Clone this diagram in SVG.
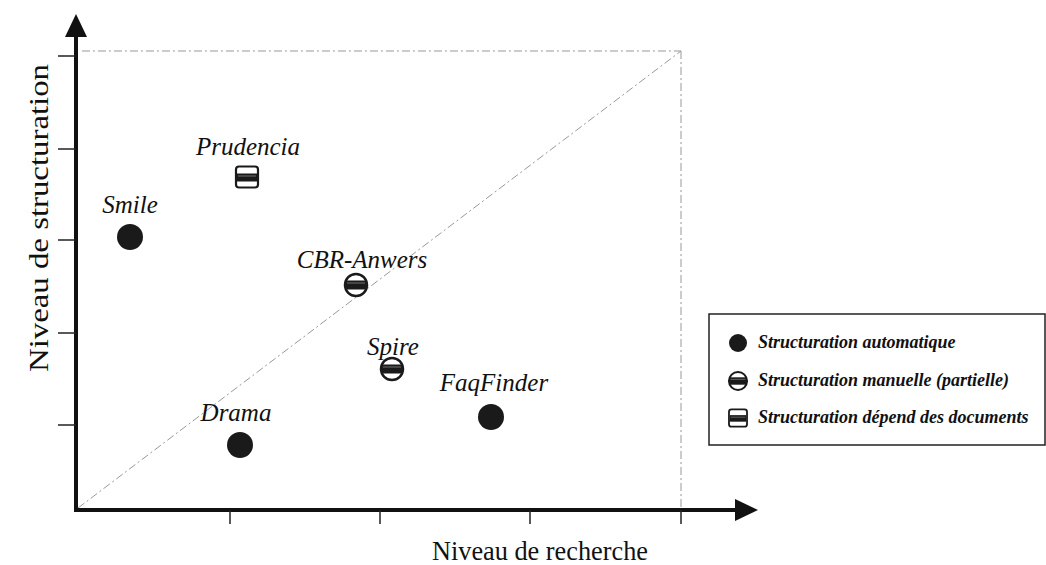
<svg xmlns="http://www.w3.org/2000/svg" width="1046" height="565" viewBox="0 0 1046 565">
  <style>
    .axis { stroke: #111; stroke-width: 4; fill: none; }
    .tick { stroke: #222; stroke-width: 1.5; }
    .guide { stroke: #999; stroke-width: 1; fill: none; stroke-dasharray: 8 3 2 3; }
    .label { font-family: "Liberation Serif", "Times New Roman", serif; font-style: italic; font-size: 25px; fill: #111; text-anchor: middle; }
    .axis-title { font-family: "Liberation Serif", "Times New Roman", serif; font-size: 27px; fill: #111; text-anchor: middle; }
    .legend-text { font-family: "Liberation Serif", "Times New Roman", serif; font-style: italic; font-weight: bold; font-size: 18px; fill: #111; }
    .auto { fill: #1a1a1a; }
    .manual-ring { fill: #fff; stroke: #1a1a1a; stroke-width: 2.5; }
    .band { fill: #1a1a1a; }
  </style>
  <defs>
    <!-- manual structuring symbol: ring with a dark middle band -->
    <g id="sym-manual">
      <circle r="11" class="manual-ring"/>
      <rect x="-10.5" y="-4.5" width="21" height="9" class="band"/>
      <line x1="-9" y1="-2" x2="9" y2="-2" stroke="#888" stroke-width="0.8"/>
    </g>
    <!-- document-dependent symbol: rounded box with a dark middle band -->
    <g id="sym-doc">
      <rect x="-11" y="-10.5" width="22" height="21" rx="3" fill="#fff" stroke="#1a1a1a" stroke-width="2.2"/>
      <rect x="-10" y="-3.5" width="20" height="8" class="band"/>
      <line x1="-9" y1="-1" x2="9" y2="-1" stroke="#888" stroke-width="0.8"/>
    </g>
  </defs>

  <!-- guide lines -->
  <g id="guides">
    <line x1="82" y1="51" x2="681" y2="51" class="guide"/>
    <line x1="681" y1="51" x2="681" y2="510" class="guide" stroke-dasharray="2 1"/>
    <line x1="78" y1="508" x2="681" y2="51" class="guide"/>
  </g>

  <!-- axes -->
  <g id="axes">
    <line x1="76" y1="510" x2="76" y2="36" class="axis"/>
    <path d="M65,37 L76,14 L87,37 Z" fill="#111"/>
    <line x1="74" y1="510" x2="736" y2="510" class="axis"/>
    <path d="M735,499 L758,510 L735,521 Z" fill="#111"/>
    <line x1="58" y1="56" x2="76" y2="56" class="tick"/>
    <line x1="58" y1="149" x2="76" y2="149" class="tick"/>
    <line x1="58" y1="240" x2="76" y2="240" class="tick"/>
    <line x1="58" y1="333" x2="76" y2="333" class="tick"/>
    <line x1="58" y1="425" x2="76" y2="425" class="tick"/>
    <line x1="230" y1="510" x2="230" y2="524" class="tick"/>
    <line x1="380" y1="510" x2="380" y2="524" class="tick"/>
    <line x1="530" y1="510" x2="530" y2="524" class="tick"/>
    <line x1="681" y1="510" x2="681" y2="524" class="tick"/>
    <text x="540" y="560" class="axis-title" textLength="216" lengthAdjust="spacingAndGlyphs">Niveau de recherche</text>
    <text x="0" y="0" class="axis-title" transform="translate(48,218) rotate(-90)" textLength="308" lengthAdjust="spacingAndGlyphs">Niveau de structuration</text>
  </g>

  <!-- systems -->
  <g id="smile">
    <circle cx="130" cy="237" r="13" class="auto"/>
    <text x="130" y="213" class="label">Smile</text>
  </g>
  <g id="prudencia">
    <use href="#sym-doc" x="247" y="177"/>
    <text x="248" y="155" class="label">Prudencia</text>
  </g>
  <g id="cbr-anwers">
    <use href="#sym-manual" x="356" y="285"/>
    <text x="362" y="268" class="label">CBR-Anwers</text>
  </g>
  <g id="spire">
    <use href="#sym-manual" x="392" y="369"/>
    <text x="393" y="355" class="label">Spire</text>
  </g>
  <g id="faqfinder">
    <circle cx="491" cy="417" r="13" class="auto"/>
    <text x="494" y="391" class="label">FaqFinder</text>
  </g>
  <g id="drama">
    <circle cx="240" cy="445" r="13" class="auto"/>
    <text x="236" y="421" class="label">Drama</text>
  </g>

  <!-- legend -->
  <g id="legend">
    <rect x="709" y="314" width="336" height="131" fill="#fff" stroke="#222" stroke-width="1.5"/>
    <circle cx="738" cy="343" r="9" class="auto"/>
    <text x="758" y="348" class="legend-text">Structuration automatique</text>
    <use href="#sym-manual" transform="translate(738,381) scale(0.82)"/>
    <text x="758" y="386" class="legend-text">Structuration manuelle (partielle)</text>
    <use href="#sym-doc" transform="translate(738,418) scale(0.82)"/>
    <text x="758" y="423" class="legend-text">Structuration dépend des documents</text>
  </g>
</svg>
